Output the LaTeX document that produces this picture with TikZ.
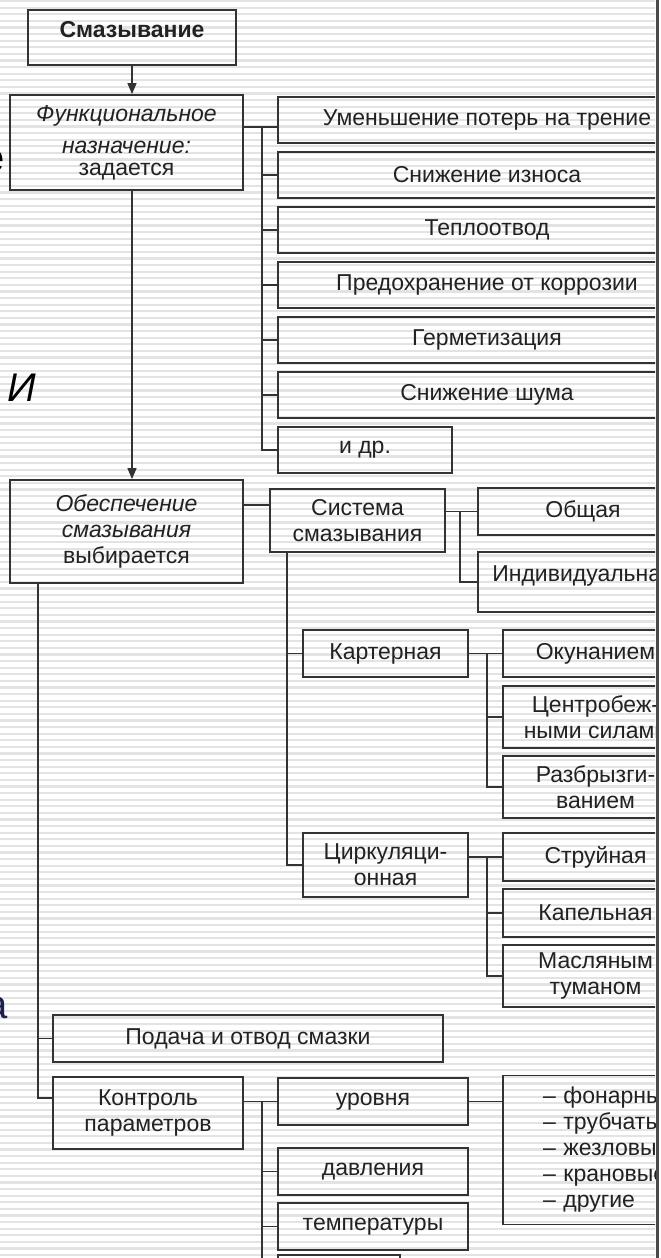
\documentclass[tikz,border=0pt]{standalone}
\usepackage{fontspec}
\setmainfont{Liberation Sans}
\usetikzlibrary{arrows.meta, calc}

\definecolor{boxline}{HTML}{333333}
\definecolor{inktext}{HTML}{222222}
\definecolor{stripegray}{HTML}{E3E3E3}
\definecolor{edgegray}{HTML}{4A4A4A}
\definecolor{slidenavy}{HTML}{1C1F55}

\newcommand{\boxfont}{\fontsize{23}{26}\selectfont}

\begin{document}
\begin{tikzpicture}[
    x=1pt, y=-1pt,
    box/.style={rectangle, draw=boxline, line width=1.8pt, inner sep=0pt,
                font=\boxfont, text=inktext, align=center},
    funcbox/.style={box, minimum width=418pt, minimum height=46pt},
    wayobox/.style={box, minimum width=185pt, minimum height=47pt},
    midbox/.style={box, minimum width=165pt, minimum height=47pt},
    ctrlbox/.style={box, minimum width=190pt, minimum height=47pt},
    conn/.style={draw=boxline, line width=1.4pt},
    arr/.style={conn, -{Triangle[length=11pt, width=9pt]}},
    stripe/.style={stripegray, line width=2.2pt},
    slidetext/.style={font=\fontsize{40}{40}\selectfont, inner sep=0pt}
  ]
  \useasboundingbox (0,0) rectangle (661,1258);
  \begin{scope}
    \clip (0,0) rectangle (655,1258);
    % striped background
    \fill[white] (0,0) rectangle (661,1258);
    \foreach \y in {1,7.6,...,1258}
      \draw[stripe] (0,\y) -- (661,\y);

    % text of the slide behind
    \node[slidetext, text=black] (se) at (-6,161) {е};
    \node[slidetext, text=black] (si) at (22,388) {\textit{И}};
    \node[slidetext, text=slidenavy] (sa) at (-3,1008) {а};

    % top and first level
    \node[box, minimum width=208pt, minimum height=55pt, text depth=17pt]
      (top) at (132,37.5) {\textbf{Смазывание}};
    \node[box, minimum width=233pt, minimum height=95pt] (func) at (126.5,142.5)
      {\textit{Функциональное}\\[6pt]\textit{назначение:}\\[-4pt]задается};
    \node[box, minimum width=233pt, minimum height=103pt] (obesp) at (126.5,531.5)
      {\textit{Обеспечение}\\\textit{смазывания}\\выбирается};

    % purposes
    \node[funcbox] (f1) at (487,120) {Уменьшение потерь на трение};
    \node[funcbox] (f2) at (487,175) {Снижение износа};
    \node[funcbox] (f3) at (487,230) {Теплоотвод};
    \node[funcbox] (f4) at (487,285) {Предохранение от коррозии};
    \node[funcbox] (f5) at (487,340) {Герметизация};
    \node[funcbox] (f6) at (487,395) {Снижение шума};
    \node[box, minimum width=174pt, minimum height=46pt] (f7) at (365,450) {и др.};

    % lubrication system
    \node[box, minimum width=175pt, minimum height=63pt] (sys) at (357.5,520.5)
      {Система\\смазывания};
    \node[box, minimum width=210pt, minimum height=47pt] (gen) at (583,511.5) {Общая};
    \node[box, minimum width=210pt, minimum height=60pt, text depth=16pt]
      (ind) at (583,582) {Индивидуальная};

    \node[midbox] (cart) at (385.5,653.5) {Картерная};
    \node[midbox, minimum height=64pt] (circ) at (385.5,865) {Циркуляци-\\онная};

    \node[wayobox] (okun) at (595.5,653.5) {Окунанием};
    \node[wayobox, minimum height=62pt] (centr) at (595.5,717) {Центробеж-\\ными силами};
    \node[wayobox, minimum height=62pt] (razb) at (595.5,787) {Разбрызги-\\ванием};
    \node[wayobox, minimum height=48pt] (strui) at (595.5,857) {Струйная};
    \node[wayobox, minimum height=48pt] (kap) at (595.5,913) {Капельная};
    \node[wayobox, minimum height=62pt] (masl) at (595.5,976) {Масляным\\туманом};

    % supply and control
    \node[box, minimum width=390pt, minimum height=47pt] (podacha) at (248,1038.5)
      {Подача и отвод смазки};
    \node[box, minimum width=190pt, minimum height=72pt] (kontrol) at (148,1113)
      {Контроль\\параметров};
    \node[ctrlbox] (uroven) at (373,1101.5) {уровня};
    \node[ctrlbox] (davl) at (373,1171.5) {давления};
    \node[ctrlbox] (temp) at (373,1226.5) {температуры};
    \node[box, minimum width=122pt, minimum height=45pt] (extra) at (339,1277.5) {};
    \node[box, minimum width=185pt, minimum height=149pt, align=left,
          text width=105pt, font=\fontsize{23}{23}\selectfont]
      (list) at (595.5,1150)
      {\mbox{– фонарные}\\[3pt]\mbox{– трубчатые}\\[3pt]\mbox{– жезловые}\\[3pt]
       \mbox{– крановые}\\[3pt]\mbox{– другие}};

    % bus points
    \coordinate (fbus) at (262,127);
    \coordinate (sysin) at (256,505);
    \coordinate (sbus) at (460,511.5);
    \coordinate (svert) at (287,552);
    \coordinate (cbus) at (487,653.5);
    \coordinate (zbus) at (487,857);
    \coordinate (mvert) at (38,583);
    \coordinate (kbus) at (262,1101.5);

    % arrows down the left side
    \draw[arr] (top.south) -- (top.south |- func.north);
    \draw[arr] (top.south |- func.south) -- (top.south |- obesp.north);

    % purposes
    \draw[conn] (func.east |- fbus) -- (f1.west |- fbus);
    \foreach \n in {f2,f3,f4,f5,f6,f7}
      \draw[conn] (fbus) |- (\n.west);

    % system branches
    \draw[conn] (obesp.east |- sysin) -- (sys.west |- sysin);
    \draw[conn] (sys.east |- sbus) -- (gen.west);
    \draw[conn] (sbus) |- (ind.west);
    \draw[conn] (svert) |- (cart.west);
    \draw[conn] (svert) |- (circ.west);
    \draw[conn] (cart.east) -- (okun.west);
    \foreach \n in {centr,razb}
      \draw[conn] (cbus) |- (\n.west);
    \draw[conn] (circ.east |- zbus) -- (strui.west);
    \foreach \n in {kap,masl}
      \draw[conn] (zbus) |- (\n.west);

    % supply and control branches
    \draw[conn] (mvert) |- (podacha.west);
    \draw[conn] (mvert) |- ([yshift=15pt]kontrol.west);
    \draw[conn] (kontrol.east |- kbus) -- (uroven.west);
    \foreach \n in {davl,temp,extra}
      \draw[conn] (kbus) |- (\n.west);
    \draw[conn] (uroven.east) -- (uroven.east -| list.west);
  \end{scope}

  % right edge
  \draw[edgegray, line width=3pt] (657.5,0) -- (657.5,1258);
\end{tikzpicture}
\end{document}
